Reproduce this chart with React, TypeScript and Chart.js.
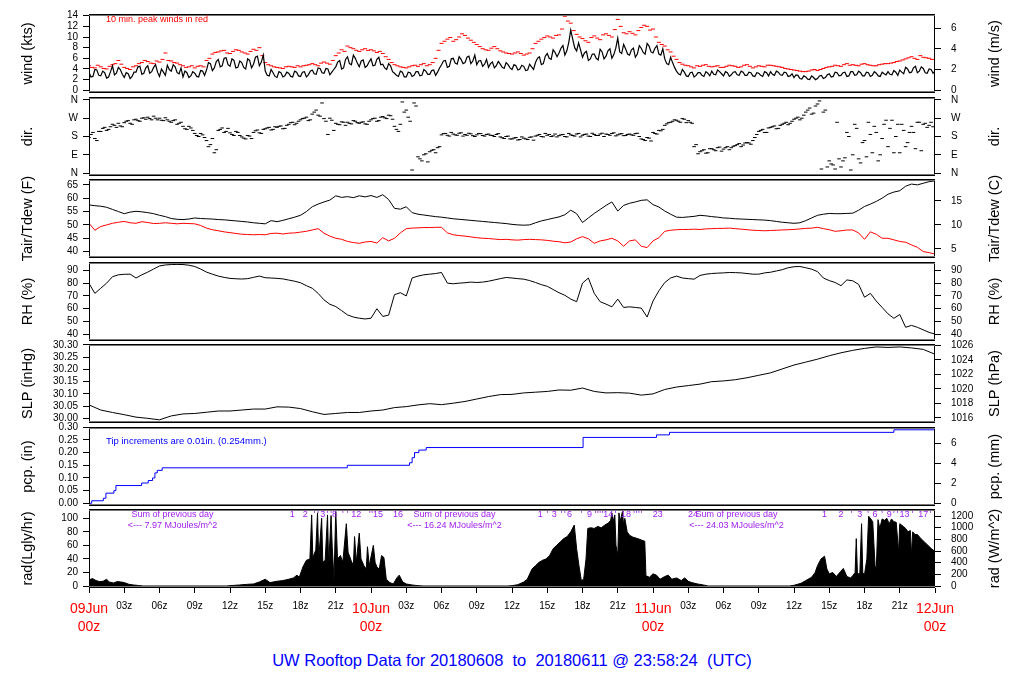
import React, { useEffect, useRef } from 'react';
import { Chart, registerables } from 'chart.js';

Chart.register(...registerables);

const FONT = '"Liberation Sans", Arial, Helvetica, sans-serif';

// ===== time axis: hours after 09Jun 00z =====
const X_TICK_HOURS = [0, 3, 6, 9, 12, 15, 18, 21, 24, 27, 30, 33, 36, 39, 42, 45, 48, 51, 54, 57, 60, 63, 66, 69, 72];
const DAY_LABELS = ['09Jun', '10Jun', '11Jun', '12Jun'];

// ===== wind (kts): readings on the 20-min marks and on the 10-min offsets between them =====
const WIND_STEP = 1 / 3;
const windKts = [
  3.4, 2.6, 3.8, 2.7, 3.3, 2.5, 4.6, 3.2, 3.9, 2.4, 3.1, 2.6,
  3.4, 4.5, 3.2, 4.6, 3.5, 4.8, 2.6, 3.4, 4.7, 3.6, 4.4, 3.1,
  2.5, 3.3, 2.7, 3.2, 2.5, 3.6, 3.8, 5.0, 4.2, 5.8, 4.6, 6.1,
  4.5, 5.6, 4.3, 5.2, 4.0, 5.6, 4.9, 6.4, 5.3, 3.6, 2.7, 3.3,
  2.4, 3.3, 2.7, 3.2, 2.5, 3.4, 2.6, 3.5, 2.9, 3.8, 3.0, 4.1,
  3.2, 4.0, 3.4, 4.4, 5.6, 4.2, 6.3, 4.8, 6.0, 4.4, 5.7, 4.6,
  5.9, 4.7, 6.2, 4.9, 3.9, 4.6, 3.2, 2.6, 3.4, 2.5, 3.3, 2.8,
  3.5, 2.8, 3.6, 3.0, 3.8, 3.4, 4.8, 5.6, 4.5, 6.0, 4.9, 5.8,
  5.2, 6.4, 5.5, 4.8, 5.6, 4.9, 4.3, 5.3, 4.6, 4.9, 4.1, 4.8,
  3.9, 4.6, 4.0, 4.5, 3.8, 4.4, 5.2, 6.3, 5.0, 6.9, 5.8, 7.1,
  7.0, 8.4, 7.4, 11.3, 8.0, 8.9, 6.2, 7.3, 5.9, 6.8, 5.7, 7.2,
  6.4, 7.8, 6.7, 9.8, 6.9, 7.8, 6.6, 7.9, 6.8, 7.9, 6.8, 8.3,
  7.0, 8.4, 6.6, 5.9, 4.8, 5.2, 3.6, 2.9, 3.4, 2.6, 3.4, 2.8,
  3.3, 2.6, 3.2, 3.6, 2.9, 3.5, 2.7, 3.3, 2.9, 3.5, 2.8, 3.4,
  2.8, 3.3, 2.6, 3.2, 2.6, 3.3, 3.5, 2.8, 3.4, 2.8, 3.3, 2.7,
  2.4, 2.8, 2.1, 2.5, 2.0, 2.4, 2.2, 2.8, 2.4, 3.1, 2.6, 3.3,
  2.8, 3.4, 2.7, 3.5, 2.9, 3.3, 2.7, 3.3, 2.8, 3.2, 2.6, 3.1,
  3.5, 2.9, 3.4, 3.8, 3.1, 4.0, 3.4, 4.5, 3.6, 4.1, 3.2, 3.9,
  3.6,
];
const windKtsMid = [
  2.5, 3.9, 2.8, 3.6, 2.3, 3.5, 2.9, 4.3, 3.0, 3.3, 2.2, 3.4,
  4.4, 3.0, 4.2, 3.2, 4.3, 3.4, 4.0, 2.8, 3.9, 4.8, 3.3, 4.2,
  3.6, 2.4, 3.5, 2.6, 3.7, 2.8, 5.2, 3.7, 5.4, 4.4, 6.0, 4.8,
  5.9, 4.2, 5.5, 4.3, 5.9, 4.2, 6.2, 4.6, 6.6, 2.8, 3.9, 2.6,
  3.5, 2.5, 3.4, 2.6, 3.6, 2.7, 3.4, 2.5, 3.6, 3.1, 4.2, 3.3,
  4.1, 2.9, 3.9, 5.3, 4.0, 5.8, 5.0, 6.6, 5.1, 5.5, 4.3, 5.3,
  4.6, 5.8, 4.8, 4.2, 5.0, 3.5, 2.8, 3.6, 2.5, 3.4, 2.6, 3.5,
  2.7, 3.9, 3.0, 3.7, 2.8, 4.2, 5.5, 4.3, 5.9, 5.1, 6.3, 5.0,
  6.2, 5.0, 6.6, 5.5, 4.5, 5.8, 5.0, 4.2, 5.4, 4.3, 5.2, 4.2,
  4.8, 3.8, 4.7, 3.7, 4.9, 3.9, 6.0, 4.8, 6.4, 6.0, 7.6, 6.3,
  7.9, 6.6, 9.0, 9.6, 7.4, 7.6, 7.0, 5.6, 6.8, 6.0, 7.7, 5.9,
  7.4, 6.0, 7.9, 7.2, 8.6, 6.8, 7.6, 6.2, 8.4, 7.1, 8.8, 7.2,
  7.9, 6.8, 7.8, 5.0, 6.2, 4.3, 3.1, 3.9, 2.7, 3.3, 2.5, 3.3,
  2.8, 3.5, 2.7, 3.0, 3.8, 3.1, 3.5, 2.6, 3.4, 2.9, 3.6, 2.8,
  3.4, 2.7, 3.3, 2.8, 3.5, 2.7, 3.0, 3.6, 2.9, 3.4, 2.6, 3.1,
  2.9, 2.2, 2.7, 2.1, 2.7, 2.0, 2.7, 2.2, 2.9, 2.5, 3.4, 2.7,
  3.3, 2.6, 3.5, 2.8, 3.6, 2.7, 3.4, 2.6, 3.5, 2.7, 3.4, 2.9,
  3.0, 3.7, 2.8, 3.4, 4.3, 3.3, 4.2, 3.3, 4.4, 3.3, 4.0, 3.2,
];

// ===== 10-min peak winds (kts): on the half hours and the quarter-past offsets =====
const PEAK_STEP = 0.5;
const peakKts = [
  4.6, 4.2, 4.4, 4.0, 4.8, 5.6, 4.3, 3.9, 4.6, 5.2, 5.4, 5.0, 5.3, 7.0, 5.5, 5.1, 4.6, 4.4, 4.2, 4.6,
  5.6, 6.8, 7.2, 7.5, 6.9, 7.6, 7.2, 6.8, 7.7, 8.0, 5.2, 4.6, 4.3, 4.1, 4.5, 4.3, 4.4, 4.7, 5.0, 4.6,
  5.3, 4.9, 6.5, 7.6, 8.3, 7.8, 7.3, 7.8, 7.6, 7.1, 6.9, 5.8, 4.8, 4.4, 4.2, 4.6, 4.5, 5.0, 4.8, 6.0,
  8.8, 9.6, 9.2, 10.0, 10.3, 9.4, 8.6, 7.8, 7.5, 8.2, 7.4, 7.0, 6.8, 7.2, 6.6, 7.0, 8.8, 9.6, 10.2, 9.8,
  10.4, 13.9, 12.6, 10.5, 9.7, 9.0, 10.2, 9.5, 10.6, 10.0, 13.3, 10.8, 11.0, 10.4, 11.8, 12.0, 11.5, 9.0, 8.3, 7.2,
  5.8, 4.9, 4.6, 4.2, 4.5, 4.8, 4.4, 4.6, 4.3, 4.7, 4.5, 4.4, 4.8, 4.2, 4.6, 4.4, 4.7, 4.5, 4.3, 4.0,
  3.8, 3.6, 3.5, 3.8, 3.7, 4.1, 4.4, 4.7, 4.5, 5.0, 4.8, 4.6, 5.0, 4.7, 4.6, 4.9, 5.0, 5.2, 5.5, 5.9,
  6.3, 5.8, 6.2, 6.0,
];
const peakKtsQ = [
  4.3, 4.7, 4.1, 4.5, 5.0, 4.9, 4.1, 4.4, 5.0, 5.6, 5.1, 5.5, 5.8, 5.6, 5.2, 4.8, 4.3, 4.6, 4.5, 4.4,
  6.0, 7.1, 7.4, 7.0, 7.3, 7.5, 7.0, 7.3, 7.5, 6.5, 4.8, 4.4, 4.2, 4.4, 4.4, 4.6, 4.6, 4.8, 4.8, 5.1,
  5.1, 5.6, 7.0, 7.3, 8.0, 7.5, 7.6, 7.5, 7.4, 7.3, 6.3, 5.2, 4.6, 4.3, 4.4, 4.7, 4.8, 4.6, 5.2, 7.5,
  9.2, 9.9, 9.5, 10.6, 9.8, 9.0, 8.2, 7.6, 7.9, 7.8, 7.2, 6.9, 7.0, 6.9, 6.8, 7.8, 9.2, 9.9, 10.0, 10.3,
  11.5, 13.0, 11.2, 10.0, 9.3, 9.9, 9.8, 10.4, 10.3, 11.4, 12.0, 10.6, 10.7, 11.2, 12.2, 11.3, 10.0, 8.6, 7.6, 6.4,
  5.2, 4.7, 4.4, 4.6, 4.7, 4.5, 4.5, 4.3, 4.5, 4.6, 4.3, 4.7, 4.5, 4.4, 4.5, 4.7, 4.6, 4.4, 4.1, 3.9,
  3.7, 3.5, 3.6, 3.9, 3.9, 4.3, 4.5, 4.6, 4.8, 4.7, 4.7, 4.9, 4.8, 4.6, 4.8, 5.0, 5.1, 5.4, 5.7, 6.1,
  6.0, 6.5, 6.1, 5.8,
];

// ===== wind direction (deg): on the 20-min marks and the 10-min offsets =====
const DIR_STEP = 1 / 3;
const dirDeg = [
  175, 200, 160, 205, 225, 215, 240, 225, 232, 248, 258, 240,
  265, 255, 272, 275, 262, 270, 270, 258, 262, 250, 262, 245,
  230, 215, 222, 195, 180, 188, 160, 140, 100, 210, 222, 205,
  198, 185, 200, 178, 168, 182, 200, 212, 195, 218, 225, 215,
  225, 232, 220, 240, 250, 245, 262, 270, 258, 290, 310, 280,
  268, 190, 260, 245, 238, 250, 250, 242, 255, 245, 252, 240,
  262, 270, 258, 278, 268, 282, 230, 205, 350, 310, 255, 345,
  80, 60, 95, 105, 115, 125, 188, 195, 182, 192, 186, 198,
  190, 196, 184, 188, 194, 182, 192, 185, 190, 178, 170, 182,
  168, 175, 165, 172, 165, 178, 182, 190, 178, 186, 180, 192,
  184, 190, 178, 188, 182, 195, 186, 192, 180, 190, 185, 196,
  192, 186, 198, 188, 194, 185, 192, 186, 196, 168, 160, 172,
  200, 192, 208, 235, 248, 255, 260, 250, 265, 258, 245, 140,
  105, 115, 100, 120, 110, 128, 118, 130, 125, 135, 145, 138,
  150, 142, 175, 205, 215, 200, 225, 232, 220, 240, 250, 245,
  265, 275, 270, 300, 320, 295, 340, 20, 310, 60, 40, 250,
  30, 75, 180, 90, 220, 50, 160, 250, 100, 200, 90, 240,
  130, 260, 180, 100, 210, 150, 230, 120, 250, 240, 225, 250,
];
const dirDegMid = [
  190, 170, 205, 220, 210, 228, 235, 245, 228, 255, 245, 262,
  258, 270, 265, 268, 280, 262, 260, 272, 255, 258, 240, 250,
  218, 230, 210, 185, 195, 175, 130, 170, 115, 215, 200, 220,
  190, 205, 185, 172, 185, 170, 208, 198, 215, 222, 212, 228,
  230, 218, 235, 248, 238, 255, 268, 275, 262, 300, 285, 345,
  255, 270, 210, 240, 252, 235, 245, 258, 248, 250, 242, 255,
  268, 255, 275, 272, 285, 265, 215, 240, 300, 275, 15, 330,
  70, 90, 55, 112, 100, 130, 194, 186, 200, 188, 196, 182,
  186, 193, 180, 195, 185, 190, 186, 180, 194, 174, 180, 168,
  172, 163, 178, 168, 176, 162, 186, 180, 195, 190, 183, 178,
  188, 180, 195, 185, 192, 178, 190, 182, 196, 185, 192, 180,
  190, 195, 183, 192, 184, 190, 188, 194, 180, 165, 175, 158,
  195, 210, 215, 242, 250, 262, 255, 268, 248, 250, 130, 95,
  110, 98, 120, 115, 125, 108, 125, 115, 132, 140, 130, 148,
  148, 160, 190, 210, 200, 222, 228, 218, 235, 245, 238, 255,
  270, 262, 285, 310, 290, 330, 355, 300, 30, 45, 20, 70,
  60, 200, 15, 240, 70, 150, 80, 190, 230, 60, 170, 260,
  220, 100, 240, 240, 130, 200, 200, 250, 110, 245, 235, 228,
];

// ===== temperature / dew point (F), every 30 min =====
const HALF_STEP = 0.5;
const tairF = [
  57.5, 57.2, 57.0, 56.6, 55.8, 55.0, 54.2, 54.8, 55.1, 54.9, 54.6, 54.2,
  53.6, 53.1, 52.4, 52.1, 52.0, 52.2, 52.6, 52.4, 52.3, 52.2, 52.0, 51.9,
  51.7, 51.5, 51.3, 51.1, 50.8, 50.6, 50.4, 51.6, 51.2, 51.7, 52.3, 52.9,
  53.6, 55.0, 56.8, 57.8, 58.6, 59.3, 60.9, 60.3, 60.6, 60.2, 60.9, 60.5,
  61.0, 60.3, 61.3, 59.5, 56.2, 55.9, 56.8, 54.6, 54.0, 53.7, 53.4, 53.1,
  52.9, 52.6, 52.3, 52.1, 51.9, 51.7, 51.5, 51.3, 51.1, 50.9, 50.7, 50.5,
  50.2, 50.0, 49.9, 50.0, 50.8, 51.5, 52.0, 52.5, 53.0, 53.8, 55.5, 54.2,
  50.9, 52.6, 54.3, 55.8, 57.3, 58.6, 55.2, 57.3, 58.1, 58.6, 59.2, 59.4,
  57.6, 56.7, 55.2, 54.0, 52.9, 52.8, 53.0, 53.2, 53.6, 53.4, 53.1, 52.9,
  52.6, 52.5, 52.3, 52.2, 52.1, 52.0, 51.9, 51.8, 51.6, 51.3, 51.0, 50.8,
  50.6, 50.8, 51.6, 52.6, 53.6, 54.0, 54.3, 54.2, 54.2, 54.3, 54.4, 55.5,
  56.9, 57.8, 58.8, 60.0, 61.5, 62.3, 62.8, 64.5, 65.3, 65.0, 65.6, 66.2,
  66.5,
];
const tdewF = [
  50.6, 48.0, 49.4, 50.0, 50.6, 51.0, 51.3, 50.8, 50.6, 51.2, 50.9, 50.5,
  50.6, 50.8, 50.6, 50.4, 50.6, 50.5, 50.4, 49.8, 48.8, 48.2, 47.8, 47.4,
  47.1, 46.8, 46.5, 46.4, 46.3, 46.4, 46.3, 46.8, 46.9, 46.6, 46.9, 47.0,
  47.3, 47.6, 48.1, 48.6, 46.9, 45.8, 45.0, 44.6, 43.8, 43.4, 43.1, 43.6,
  43.8, 43.2, 45.2, 44.0, 45.0, 47.0, 48.6, 48.8, 48.9, 49.0, 49.0, 49.1,
  49.1, 47.0, 46.3, 46.0, 45.8, 45.5, 45.2, 45.0, 44.9, 44.7, 44.5, 44.6,
  44.4, 44.3, 44.5, 44.6, 44.5, 44.4, 44.2, 43.9, 43.7, 43.3, 43.6, 44.8,
  45.6, 44.8, 43.1, 44.0, 44.4, 45.0, 44.0, 42.0, 44.0, 44.4, 42.0, 41.5,
  44.0, 45.2, 47.6, 48.0, 48.2, 48.3, 48.3, 48.4, 48.3, 48.5, 48.6, 48.7,
  48.7, 48.8, 48.6, 48.4, 48.2, 48.0, 47.9, 47.8, 47.9, 48.0, 48.1, 48.2,
  48.3, 48.5, 48.7, 48.8, 49.1, 48.6, 48.2, 47.6, 47.8, 48.1, 48.1, 47.0,
  44.6, 47.4, 46.5, 45.0, 45.0, 44.4, 43.8, 43.5, 42.5, 41.6, 40.0, 39.6,
  39.1,
];

// ===== relative humidity (%), every 30 min =====
const rhPct = [
  79.8, 72.0, 76.0, 80.0, 85.0, 86.5, 86.9, 87.0, 84.0, 86.5, 88.6, 91.0,
  93.4, 94.2, 94.5, 94.6, 94.5, 94.0, 93.0, 91.0, 88.6, 87.0, 85.5, 84.5,
  83.7, 83.4, 83.2, 83.5, 84.5, 85.5, 84.2, 84.0, 83.7, 83.3, 82.4, 81.5,
  80.3, 78.0, 76.0, 72.0, 66.9, 63.5, 61.7, 58.5, 55.2, 53.5, 52.6, 52.0,
  52.6, 60.0, 54.0, 55.0, 71.0, 72.5, 70.0, 84.0, 85.5, 86.5, 87.0, 87.5,
  88.3, 80.0, 79.5, 80.0, 80.3, 80.8, 80.5, 80.8, 81.5, 82.5, 83.5, 84.4,
  84.0, 83.5, 83.1, 82.0, 80.5, 78.8, 77.5, 75.0, 72.5, 70.5, 67.5, 65.5,
  80.0, 84.0, 72.0, 65.5, 63.6, 61.5, 67.5, 61.0, 61.5, 61.0, 60.5, 53.5,
  66.0, 74.0, 80.5, 84.0, 85.5, 84.0, 83.5, 83.1, 86.0, 87.0, 87.5, 87.8,
  88.0, 88.3, 88.2, 88.0, 87.5, 87.0, 87.0, 88.0, 88.5, 89.5, 90.5, 92.0,
  92.8, 93.0, 92.0, 90.9, 89.0, 84.0, 82.0, 80.5, 78.0, 82.5, 81.8, 79.0,
  69.0, 72.0, 66.0, 61.0, 56.0, 52.5, 55.5, 45.5, 47.0, 45.5, 43.5, 41.5,
  40.2,
];

// ===== sea level pressure (inHg), hourly =====
const SLP_STEP = 1;
const slpInHg = [
  30.055, 30.034, 30.024, 30.015, 30.005, 30.000, 29.994, 30.010, 30.018, 30.020,
  30.025, 30.030, 30.030, 30.034, 30.038, 30.038, 30.047, 30.046, 30.040, 30.027,
  30.016, 30.020, 30.024, 30.024, 30.030, 30.034, 30.044, 30.048, 30.055, 30.060,
  30.056, 30.062, 30.069, 30.079, 30.089, 30.097, 30.098, 30.104, 30.107, 30.110,
  30.116, 30.115, 30.124, 30.110, 30.104, 30.105, 30.103, 30.095, 30.100, 30.118,
  30.128, 30.134, 30.140, 30.150, 30.153, 30.158, 30.166, 30.176, 30.186, 30.202,
  30.218, 30.230, 30.242, 30.256, 30.268, 30.278, 30.286, 30.292, 30.290, 30.292,
  30.288, 30.282, 30.262,
];

// ===== accumulated precipitation (in) =====
const pcpHours = [0, 0.23, 1.22, 1.44, 2.12, 2.29, 4.48, 5.04, 5.41, 5.61, 5.81, 6.23, 21.98, 27.28, 27.5, 27.7, 28.07, 28.7, 42.05, 48.3, 49.4, 68.5, 72];
const pcpIn = [0, 0.01, 0.02, 0.04, 0.05, 0.07, 0.08, 0.09, 0.10, 0.12, 0.13, 0.14, 0.15, 0.16, 0.18, 0.20, 0.21, 0.22, 0.26, 0.27, 0.28, 0.29, 0.29];

// ===== solar radiation (Langley/hr) =====
const radHours = [
  0, 0.3, 0.6, 0.9, 1.2, 1.5, 1.7, 2.1, 2.4, 2.7, 3.0, 3.4, 3.8, 4.2, 4.6,
  11.7, 12.0, 12.8, 13.5, 14.0, 14.5, 15.0, 15.4, 16.0, 16.5, 17.0, 17.4, 17.7, 17.9,
  18.2, 18.5, 18.8, 18.95, 19.05, 19.3, 19.45, 19.55, 19.8, 19.9, 20.1, 20.3, 20.4, 20.6, 20.7, 20.85,
  21.0, 21.15, 21.4, 21.6, 21.9, 22.05, 22.3, 22.5, 22.6, 22.75, 23.0, 23.15, 23.4, 23.6, 23.7, 23.85,
  24.2, 24.35, 24.5, 24.7, 24.9, 25.1, 25.3, 25.6, 25.9, 26.2, 26.4, 26.7, 27.0, 27.5, 28.0, 28.5,
  35.6, 36.0, 36.5, 37.0, 37.3, 37.7, 38.0, 38.3, 38.6, 38.9, 39.2, 39.5, 39.8, 40.1, 40.4, 40.7,
  41.0, 41.3, 41.5, 41.7, 41.9, 42.1, 42.3, 42.45, 42.7, 43.0, 43.3, 43.6, 43.9, 44.2, 44.4, 44.5,
  44.6, 44.75, 44.85, 45.0, 45.1, 45.2, 45.4, 45.5, 45.6, 45.8, 46.0, 46.3, 46.7, 47.0, 47.3, 47.4,
  47.7, 48.0, 48.3, 48.6, 49.0, 49.3, 49.6, 50.0, 50.4, 50.7, 51.0, 51.3, 51.8, 52.3, 52.7,
  59.6, 60.0, 60.6, 61.0, 61.5, 61.8, 62.0, 62.3, 62.6, 62.8, 63.0, 63.3, 63.6, 64.0, 64.2, 64.5,
  64.8, 65.0, 65.2, 65.3, 65.4, 65.6, 65.75, 65.85, 66.0, 66.2, 66.35, 66.5, 66.7, 66.9, 67.0, 67.15,
  67.3, 67.5, 67.7, 67.9, 68.1, 68.3, 68.5, 68.7, 68.9, 69.0, 69.3, 69.5, 69.7, 69.9, 70.0, 70.1,
  70.3, 70.5, 70.8, 71.1, 71.4, 71.7, 72.0,
];
const radLy = [
  9, 11, 8, 6.5, 7, 10, 6, 4.5, 6.5, 6, 5, 2.5, 1.5, 0.8, 0,
  0, 0.5, 1.5, 2.5, 3, 6, 10, 5, 7, 8, 10, 12, 16, 13,
  28, 38, 40, 105, 42, 53, 108, 40, 100, 35, 38, 105, 30, 104, 58, 10,
  110, 40, 45, 35, 92, 50, 38, 30, 73, 35, 78, 40, 30, 25, 58, 30,
  60, 35, 28, 25, 45, 42, 10, 5, 3, 12, 16, 6, 3, 1.5, 0.5, 0,
  0, 0.5, 2, 6, 10, 25, 30, 35, 38, 40, 45, 55, 60, 65, 70, 73,
  80, 90, 55, 30, 8, 10, 40, 85, 86, 85, 88, 86, 90, 93, 97, 108,
  95, 105, 60, 45, 108, 95, 110, 90, 100, 80, 75, 72, 70, 68, 66, 15,
  13, 18, 16, 10, 14, 16, 10, 12, 8, 12, 7, 5, 3, 1.5, 0,
  0, 1, 4, 8, 13, 20, 30, 40, 44, 25, 18, 20, 14, 22, 26, 14,
  12, 15, 20, 70, 18, 18, 92, 20, 17, 40, 103, 100, 95, 30, 25, 98,
  85, 99, 97, 100, 92, 99, 95, 94, 50, 92, 88, 85, 80, 82, 45, 80,
  76, 76, 70, 65, 60, 55, 51,
];

// radiation panel annotations
const radMarkHours = [
  17.3, 18.4, 19.2, 19.5, 19.9, 20.3, 20.6, 20.9, 21.6, 22.0, 22.75, 23.9, 24.1, 24.6, 26.3,
  38.4, 39.0, 39.6, 40.2, 40.5, 40.9, 41.9, 42.6, 43.1, 43.3, 43.5, 43.7, 44.2, 44.8, 45.7, 46.4, 46.6, 46.8, 47.0, 48.4, 51.4,
  62.6, 64.0, 64.9, 65.6, 66.3, 66.9, 67.5, 68.1, 68.5, 68.8, 69.4, 70.1, 71.0, 71.6,
];
const radMarkText = [
  '1', '2', "'", "'", '3', "'", "'", '8', "'", "'", '12', "'", "'", '15', '16',
  '1', "'", '3', "'", "'", '6', "'", '9', "'", "'", "'", "'", '14', "'", '18', "'", "'", "'", "'", '23', '24',
  '1', '2', "'", '3', "'", '6', "'", '9', "'", "'", '13', "'", '17', "'",
];
const radSumHours = [7.1, 31.1, 55.1];
const radSumText = ['<--- 7.97 MJoules/m^2', '<--- 16.24 MJoules/m^2', '<--- 24.03 MJoules/m^2'];

// ===== axis ticks =====
const WIND_TICKS = [0, 2, 4, 6, 8, 10, 12, 14];
const WIND_MS_TICKS = [0, 2, 4, 6];
const DIR_TICKS = [0, 90, 180, 270, 360];
const DIR_TICK_LABELS = ['N', 'E', 'S', 'W', 'N'];
const TEMP_F_TICKS = [40, 45, 50, 55, 60, 65];
const TEMP_C_TICKS = [5, 10, 15];
const RH_TICKS = [40, 50, 60, 70, 80, 90];
const SLP_IN_TICKS = [30.0, 30.05, 30.1, 30.15, 30.2, 30.25, 30.3];
const SLP_HPA_TICKS = [1016, 1018, 1020, 1022, 1024, 1026];
const PCP_IN_TICKS = [0, 0.05, 0.1, 0.15, 0.2, 0.25, 0.3];
const PCP_MM_TICKS = [0, 2, 4, 6];
const RAD_LY_TICKS = [0, 20, 40, 60, 80, 100];
const RAD_W_TICKS = [0, 200, 400, 600, 800, 1000, 1200];

// unit conversions
const KTS_PER_MS = 1.94384;
const HPA_PER_INHG = 33.8639;
const MM_PER_IN = 25.4;
const W_PER_LYHR = 11.622;

// ===== layout =====
const PLOT_LEFT = 89;
const PLOT_RIGHT = 935;
const PANEL_H = 79;
const PAD = 20;
const X_AXIS_H = 52;
const PANEL_TOPS = [14, 97, 179, 262, 344, 427, 509];
const LEFT_TITLE_X = 27.5;
const RIGHT_TITLE_X = 995;
const TICK_FONT = 10;
const TITLE_FONT = 14.5;

type Note = { text: string; hour?: number; dx?: number; dy: number; color: string; size: number; align: CanvasTextAlign };

interface PanelDef {
  top: number;
  leftTitle: string;
  rightTitle: string;
  yMin: number;
  yMax: number;
  leftTicks: number[];
  leftFmt: (v: number) => string;
  rMin: number;
  rMax: number;
  rightTicks: number[];
  rightFmt: (v: number) => string;
  datasets: any[];
  notes?: Note[];
  showX?: boolean;
}

const series = (vals: number[], step: number) => vals.map((y, i) => ({ x: i * step, y }));
const interleave = (a: number[], b: number[], step: number) => {
  const out: { x: number; y: number }[] = [];
  a.forEach((y, i) => {
    out.push({ x: i * step, y });
    if (i < b.length) out.push({ x: i * step + step / 2, y: b[i] });
  });
  return out;
};
const pairs = (xs: number[], ys: number[]) => xs.map((x, i) => ({ x, y: ys[i] }));
const fmtInt = (v: number) => String(Math.round(v));
const fmt2 = (v: number) => v.toFixed(2);
const fmtDir = (v: number) => DIR_TICK_LABELS[DIR_TICKS.indexOf(v)] ?? '';
const xLabel = (v: number): string | string[] => {
  if (v % 24 === 0) return [DAY_LABELS[v / 24], '00z'];
  return String(v % 24).padStart(2, '0') + 'z';
};

const lineDs = (data: any[], color: string, extra: any = {}) => ({
  data,
  borderColor: color,
  backgroundColor: color,
  borderWidth: 1,
  pointRadius: 0,
  tension: 0,
  fill: false,
  ...extra,
});
const dashDs = (data: any[], color: string, r: number) => ({
  data,
  showLine: false,
  borderColor: color,
  backgroundColor: color,
  borderWidth: 1,
  pointStyle: 'line',
  pointRadius: r,
});

const WIND_MIN = -0.51, WIND_MAX = 14.32;
const DIR_MIN = -14.4, DIR_MAX = 374.4;
const TEMP_MIN = 37.6, TEMP_MAX = 67.2;
const RH_MIN = 34.8, RH_MAX = 96.5;
const SLP_MIN = 29.981, SLP_MAX = 30.304;
const PCP_MIN = -0.0107, PCP_MAX = 0.3011;
const RAD_MIN = -2.95, RAD_MAX = 113.7;

const PANELS: PanelDef[] = [
  {
    top: PANEL_TOPS[0], leftTitle: 'wind (kts)', rightTitle: 'wind (m/s)',
    yMin: WIND_MIN, yMax: WIND_MAX, leftTicks: WIND_TICKS, leftFmt: fmtInt,
    rMin: WIND_MIN / KTS_PER_MS, rMax: WIND_MAX / KTS_PER_MS, rightTicks: WIND_MS_TICKS, rightFmt: fmtInt,
    datasets: [
      lineDs(interleave(windKts, windKtsMid, WIND_STEP), '#000', { borderWidth: 1.2 }),
      dashDs(interleave(peakKts, peakKtsQ, PEAK_STEP), '#ff0000', 2),
    ],
    notes: [{ text: '10 min. peak winds in red', dx: 17, dy: 5.3, color: '#ff0000', size: 9, align: 'left' }],
  },
  {
    top: PANEL_TOPS[1], leftTitle: 'dir.', rightTitle: 'dir.',
    yMin: DIR_MIN, yMax: DIR_MAX, leftTicks: DIR_TICKS, leftFmt: fmtDir,
    rMin: DIR_MIN, rMax: DIR_MAX, rightTicks: DIR_TICKS, rightFmt: fmtDir,
    datasets: [dashDs(interleave(dirDeg, dirDegMid, DIR_STEP), '#000', 1.8)],
  },
  {
    top: PANEL_TOPS[2], leftTitle: 'Tair/Tdew (F)', rightTitle: 'Tair/Tdew (C)',
    yMin: TEMP_MIN, yMax: TEMP_MAX, leftTicks: TEMP_F_TICKS, leftFmt: fmtInt,
    rMin: (TEMP_MIN - 32) / 1.8, rMax: (TEMP_MAX - 32) / 1.8, rightTicks: TEMP_C_TICKS, rightFmt: fmtInt,
    datasets: [lineDs(series(tairF, HALF_STEP), '#000'), lineDs(series(tdewF, HALF_STEP), '#ff0000')],
  },
  {
    top: PANEL_TOPS[3], leftTitle: 'RH (%)', rightTitle: 'RH (%)',
    yMin: RH_MIN, yMax: RH_MAX, leftTicks: RH_TICKS, leftFmt: fmtInt,
    rMin: RH_MIN, rMax: RH_MAX, rightTicks: RH_TICKS, rightFmt: fmtInt,
    datasets: [lineDs(series(rhPct, HALF_STEP), '#000')],
  },
  {
    top: PANEL_TOPS[4], leftTitle: 'SLP (inHg)', rightTitle: 'SLP (hPa)',
    yMin: SLP_MIN, yMax: SLP_MAX, leftTicks: SLP_IN_TICKS, leftFmt: fmt2,
    rMin: SLP_MIN * HPA_PER_INHG, rMax: SLP_MAX * HPA_PER_INHG, rightTicks: SLP_HPA_TICKS, rightFmt: fmtInt,
    datasets: [lineDs(series(slpInHg, SLP_STEP), '#000')],
  },
  {
    top: PANEL_TOPS[5], leftTitle: 'pcp. (in)', rightTitle: 'pcp. (mm)',
    yMin: PCP_MIN, yMax: PCP_MAX, leftTicks: PCP_IN_TICKS, leftFmt: fmt2,
    rMin: PCP_MIN * MM_PER_IN, rMax: PCP_MAX * MM_PER_IN, rightTicks: PCP_MM_TICKS, rightFmt: fmtInt,
    datasets: [lineDs(pairs(pcpHours, pcpIn), '#0000ff', { stepped: true })],
    notes: [{ text: 'Tip increments are 0.01in. (0.254mm.)', dx: 17, dy: 14.7, color: '#0000ff', size: 9.5, align: 'left' }],
  },
  {
    top: PANEL_TOPS[6], leftTitle: 'rad(Lgly/hr)', rightTitle: 'rad (W/m^2)',
    yMin: RAD_MIN, yMax: RAD_MAX, leftTicks: RAD_LY_TICKS, leftFmt: fmtInt,
    rMin: RAD_MIN * W_PER_LYHR, rMax: RAD_MAX * W_PER_LYHR, rightTicks: RAD_W_TICKS, rightFmt: fmtInt,
    datasets: [lineDs(pairs(radHours, radLy), '#000', { fill: 'origin' })],
    notes: [
      ...radMarkHours.map((h, i) => ({ text: radMarkText[i], hour: h, dy: 6, color: '#a020f0', size: 9, align: 'center' as CanvasTextAlign })),
      ...radSumHours.map((h) => ({ text: 'Sum of previous day', hour: h, dy: 6, color: '#a020f0', size: 9, align: 'center' as CanvasTextAlign })),
      ...radSumHours.map((h, i) => ({ text: radSumText[i], hour: h, dy: 17, color: '#a020f0', size: 9, align: 'center' as CanvasTextAlign })),
    ],
    showX: true,
  },
];

function framePlugin(def: PanelDef) {
  return {
    id: 'panelFrame',
    afterDraw(chart: any) {
      const { ctx, chartArea } = chart;
      const { left, right, top, bottom } = chartArea;
      ctx.save();
      ctx.strokeStyle = '#000';
      ctx.lineWidth = 1;
      ctx.strokeRect(left + 0.5, top + 0.5, right - left - 1, bottom - top - 1);
      ctx.strokeStyle = '#777';
      ctx.beginPath();
      ctx.moveTo(left, top + 1.5);
      ctx.lineTo(right, top + 1.5);
      ctx.moveTo(left, bottom - 1.5);
      ctx.lineTo(right, bottom - 1.5);
      ctx.stroke();

      ctx.fillStyle = '#000';
      ctx.font = `${TITLE_FONT}px ${FONT}`;
      ctx.textAlign = 'center';
      ctx.textBaseline = 'middle';
      const cy = (top + bottom) / 2;
      const titles: [number, string][] = [[LEFT_TITLE_X, def.leftTitle], [RIGHT_TITLE_X, def.rightTitle]];
      for (const [x, t] of titles) {
        ctx.save();
        ctx.translate(x, cy);
        ctx.rotate(-Math.PI / 2);
        ctx.fillText(t, 0, 0);
        ctx.restore();
      }
      for (const n of def.notes || []) {
        const x = n.hour !== undefined ? chart.scales.x.getPixelForValue(n.hour) : left + (n.dx || 0);
        ctx.font = `${n.size}px ${FONT}`;
        ctx.fillStyle = n.color;
        ctx.textAlign = n.align;
        ctx.fillText(n.text, x, top + n.dy);
      }
      ctx.restore();
    },
  };
}

function buildConfig(def: PanelDef): any {
  const tickFont = { family: FONT, size: TICK_FONT };
  const axisGrid = { drawOnChartArea: false, drawTicks: true, tickLength: 6, color: '#000', lineWidth: 1 };
  return {
    type: 'line',
    data: { datasets: def.datasets },
    options: {
      animation: false,
      responsive: false,
      maintainAspectRatio: false,
      events: [],
      layout: { padding: { left: 0, right: 0, top: PAD, bottom: def.showX ? 0 : PAD } },
      plugins: { legend: { display: false }, tooltip: { enabled: false }, title: { display: false } },
      scales: {
        x: {
          type: 'linear',
          position: 'bottom',
          min: 0,
          max: 72,
          display: !!def.showX,
          afterFit: def.showX ? (s: any) => { s.height = X_AXIS_H; } : undefined,
          afterBuildTicks: (s: any) => { s.ticks = X_TICK_HOURS.map((v) => ({ value: v })); },
          grid: { drawOnChartArea: false, drawTicks: true, tickLength: 5, color: '#000', lineWidth: 1 },
          border: { display: false },
          ticks: {
            autoSkip: false,
            maxRotation: 0,
            minRotation: 0,
            padding: 7,
            color: (c: any) => (c.tick && c.tick.value % 24 === 0 ? '#ff0000' : '#000'),
            font: (c: any) => (c.tick && c.tick.value % 24 === 0
              ? { family: FONT, size: 14, lineHeight: 1.3 }
              : { family: FONT, size: 10, lineHeight: 1.2 }),
            callback: (v: any) => xLabel(Number(v)),
          },
        },
        y: {
          type: 'linear',
          position: 'left',
          min: def.yMin,
          max: def.yMax,
          afterFit: (s: any) => { s.width = PLOT_LEFT; },
          afterBuildTicks: (s: any) => { s.ticks = def.leftTicks.map((v) => ({ value: v })); },
          grid: axisGrid,
          border: { display: false },
          ticks: { autoSkip: false, padding: 5, color: '#000', font: tickFont, callback: (v: any) => def.leftFmt(Number(v)) },
        },
        yR: {
          type: 'linear',
          position: 'right',
          min: def.rMin,
          max: def.rMax,
          afterFit: (s: any) => { s.width = 1024 - PLOT_RIGHT; },
          afterBuildTicks: (s: any) => { s.ticks = def.rightTicks.map((v) => ({ value: v })); },
          grid: axisGrid,
          border: { display: false },
          ticks: { autoSkip: false, padding: 10, color: '#000', font: tickFont, callback: (v: any) => def.rightFmt(Number(v)) },
        },
      },
    },
    plugins: [framePlugin(def)],
  };
}

function Panel({ def }: { def: PanelDef }) {
  const ref = useRef<HTMLCanvasElement>(null);
  const h = PAD + PANEL_H + (def.showX ? X_AXIS_H : PAD);
  useEffect(() => {
    const chart = new Chart(ref.current as HTMLCanvasElement, buildConfig(def));
    return () => chart.destroy();
  }, [def]);
  return (
    <canvas
      ref={ref}
      width={1024}
      height={h}
      style={{ position: 'absolute', left: 0, top: def.top - PAD, width: 1024, height: h }}
    />
  );
}

export default function App() {
  return (
    <div style={{ position: 'absolute', left: 0, top: 0, width: 1024, height: 700, background: '#fff', overflow: 'hidden' }}>
      {PANELS.map((p, i) => (
        <Panel key={i} def={p} />
      ))}
      <div
        style={{
          position: 'absolute', left: 0, top: 650, width: 1024, lineHeight: '20px', textAlign: 'center',
          color: '#0000ff', fontFamily: FONT, fontSize: 16.5, whiteSpace: 'pre',
        }}
      >
        {'UW Rooftop Data for 20180608  to  20180611 @ 23:58:24  (UTC)'}
      </div>
    </div>
  );
}
